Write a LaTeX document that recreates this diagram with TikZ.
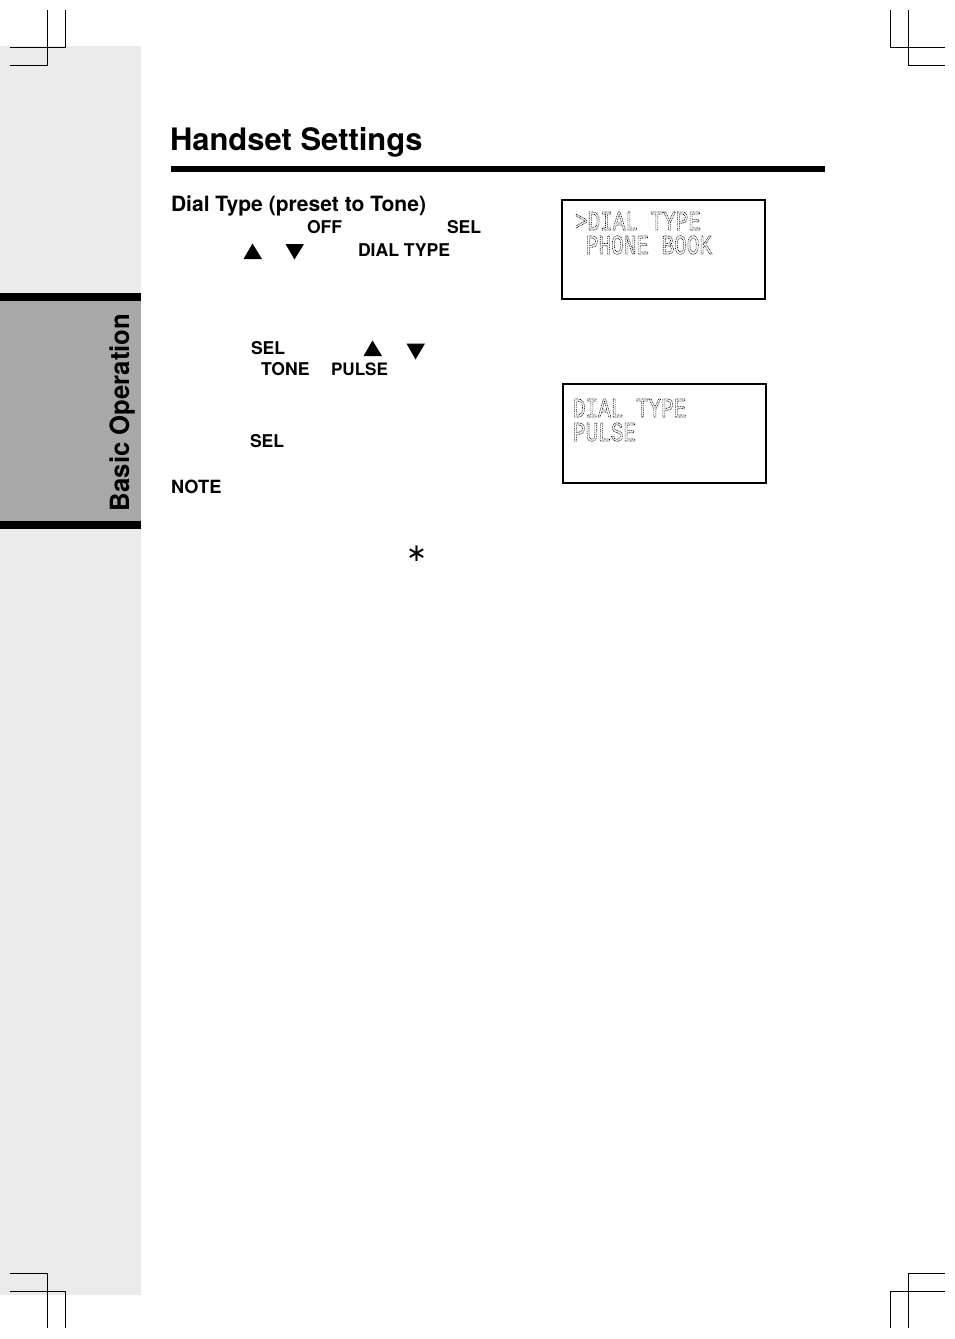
\documentclass[tikz,border=0pt]{standalone}
\usepackage{graphicx}
\usepackage{fontspec}
\setmainfont{TeX Gyre Heros}
\newfontfamily\lcdfont{Liberation Mono}
\newfontfamily\symfont{DejaVu Sans}
\newcommand{\dotted}[1]{\special{pdf:code q 1 Tr 0.55 w [0.7 0.7] 0 d}#1\special{pdf:code Q}}
\tikzset{
  crop/.style={line width=1pt,black},
  lcdbox/.style={draw=black,line width=2pt,fill=white},
  txt/.style={anchor=base west,inner sep=0pt,outer sep=0pt,font=\bfseries\fontsize{17.6}{18}\selectfont},
  lcd/.style={anchor=base west,inner sep=0pt,outer sep=0pt,yscale=1.3,transform shape,font=\lcdfont\fontsize{21}{22}\selectfont},
  tri/.style={fill=black,draw=none}
}
\begin{document}
\begin{tikzpicture}[x=1pt,y=-1pt]
\useasboundingbox (0,0) rectangle (954,1339);
% side panel
\fill[black!8] (0,46) rectangle (141,1295);
\fill[black!34] (0,293) rectangle (141,529);
\fill[black] (0,293) rectangle (141,301);
\fill[black] (0,521) rectangle (141,529);
\node[anchor=base,rotate=90,inner sep=0pt,font=\bfseries\fontsize{26.5}{28}\selectfont] (side) at (129,412.5) {\scalebox{0.97}[1]{Basic Operation}};
% crop marks
\draw[crop] (47.5,10) -- (47.5,65) -- (10,65);
\draw[crop] (65,10) -- (65,47) -- (10,47);
\draw[crop] (890.5,10) -- (890.5,47) -- (945,47);
\draw[crop] (908.5,10) -- (908.5,65) -- (945,65);
\draw[crop] (47.5,1328) -- (47.5,1273.5) -- (10,1273.5);
\draw[crop] (65,1328) -- (65,1291.5) -- (10,1291.5);
\draw[crop] (890.5,1328) -- (890.5,1291.5) -- (945,1291.5);
\draw[crop] (908.5,1328) -- (908.5,1273.5) -- (945,1273.5);
% title
\node[txt,font=\bfseries\fontsize{30.95}{32}\selectfont] (title) at (170,150) {Handset Settings};
\fill[black] (171,166) rectangle (825,172);
\node[txt,font=\bfseries\fontsize{21.05}{22}\selectfont] (head) at (171,211) {Dial Type (preset to Tone)};
% key words
\node[txt] (off) at (307,233) {OFF};
\node[txt] (sel1) at (447,233) {SEL};
\node[txt] (dial) at (358,256) {DIAL TYPE};
\node[txt] (sel2) at (251,354) {SEL};
\node[txt] (tone) at (261,375) {TONE};
\node[txt,font=\bfseries\fontsize{17.1}{18}\selectfont] (pulse) at (331,375) {PULSE};
\node[txt] (sel3) at (250,447) {SEL};
\node[txt,font=\bfseries\fontsize{18.2}{19}\selectfont] (note) at (171,493) {NOTE};
\node[anchor=center,inner sep=0pt,font=\symfont\fontsize{25}{26}\selectfont] (star) at (416.5,554) {∗};
% triangles
\fill[tri] (252.5,243.5) -- (262,259) -- (243.5,259) -- cycle;
\fill[tri] (294.5,259.5) -- (285.5,244) -- (304,244) -- cycle;
\fill[tri] (372.5,340.5) -- (382,356) -- (363.5,356) -- cycle;
\fill[tri] (415.5,359.5) -- (406.5,343.5) -- (425,343.5) -- cycle;
% LCD boxes
\node[lcdbox,anchor=north west,minimum width=203pt,minimum height=99pt,inner sep=0pt] (lcdA) at (561,199) {};
\node[lcdbox,anchor=north west,minimum width=203pt,minimum height=99pt,inner sep=0pt] (lcdB) at (562,383) {};
\node[lcd] (a1) at (575,230) {\dotted{>DIAL TYPE}};
\node[lcd] (a2) at (586,254) {\dotted{PHONE BOOK}};
\node[lcd] (b1) at (573,417) {\dotted{DIAL TYPE}};
\node[lcd] (b2) at (573,441) {\dotted{PULSE}};
\end{tikzpicture}
\end{document}
